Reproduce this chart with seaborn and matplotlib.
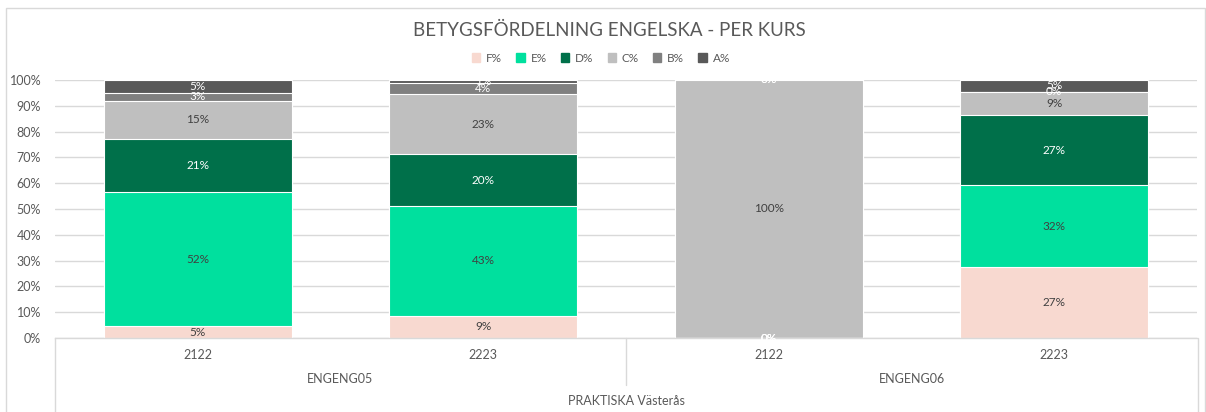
import numpy as np
import pandas as pd
import matplotlib
matplotlib.use("Agg")
import matplotlib.pyplot as plt
import seaborn as sns
from matplotlib.patches import Rectangle
from matplotlib.lines import Line2D

# ---- data ----
courses = ["ENGENG05", "ENGENG05", "ENGENG06", "ENGENG06"]
terms = ["2122", "2223", "2122", "2223"]
school = "PRAKTISKA Västerås"
grades = ["F%", "E%", "D%", "C%", "B%", "A%"]
F = [4.6, 8.6, 0.0, 27.4]
E = [51.8, 42.6, 0.0, 31.8]
D = [20.6, 20.0, 0.0, 27.2]
C = [15.0, 23.4, 100.0, 9.0]
B = [3.0, 4.2, 0.0, 0.0]
A = [5.0, 1.2, 0.0, 4.6]
title = "BETYGSFÖRDELNING ENGELSKA - PER KURS"

colors = ["#F8D9D0", "#00E09E", "#00704A", "#BFBFBF", "#808080", "#595959"]
label_colors = ["#404040", "#404040", "white", "#404040", "white", "white"]

sns.set_theme(style="white")
plt.rcParams["font.family"] = ["Lato", "DejaVu Sans"]

keys = [f"{c}\n{t}" for c, t in zip(courses, terms)]
df = pd.DataFrame({"key": keys, "F%": F, "E%": E, "D%": D, "C%": C, "B%": B, "A%": A})
vals = df[grades].to_numpy() / 100.0
cum = np.cumsum(vals, axis=1)

fig = plt.figure(figsize=(12.06, 4.12), dpi=100)
ax = fig.add_axes([55 / 1206, (412 - 338) / 412, (1197 - 55) / 1206, (338 - 80) / 412])

# draw stacked from the top down so each layer overlays the previous
for gi in range(len(grades) - 1, -1, -1):
    sns.barplot(x=df["key"], y=cum[:, gi], order=keys, color=colors[gi],
                width=0.66, saturation=1, ax=ax, edgecolor="white", linewidth=0.8,
                zorder=2)

# segment labels (all, including zeros, as the reference)
for i in range(len(keys)):
    bottom = 0.0
    for gi in range(len(grades)):
        v = vals[i, gi]
        col = label_colors[gi]
        if v == 0:
            col = "white"
        ax.text(i, bottom + v / 2, f"{round(v * 100):.0f}%", ha="center", va="center",
                fontsize=8.5, color=col, zorder=5)
        bottom += v

ax.set_xlim(-0.5, 3.5)
ax.set_ylim(0, 1)
ax.set_yticks(np.arange(0, 1.01, 0.1))
ax.set_yticklabels([f"{int(round(t * 100))}%" for t in np.arange(0, 1.01, 0.1)],
                   fontsize=9, color="#595959")
ax.tick_params(axis="y", length=0, pad=10)
ax.set_xticks([])
ax.set_xlabel("")
ax.set_ylabel("")
ax.grid(axis="y", color="#D9D9D9", linewidth=1, zorder=0)
ax.set_axisbelow(True)
for s in ["top", "right", "left"]:
    ax.spines[s].set_visible(False)
ax.spines["bottom"].set_color("#D9D9D9")
ax.spines["bottom"].set_linewidth(1)

# multi-level category axis
def fx(px):
    return px / 1206
def fy(py):
    return 1 - py / 412

line_c = "#D9D9D9"
fig.add_artist(Line2D([fx(55), fx(55)], [fy(338), fy(412)], color=line_c, lw=1))
fig.add_artist(Line2D([fx(1198), fx(1198)], [fy(338), fy(412)], color=line_c, lw=1))
fig.add_artist(Line2D([fx(626), fx(626)], [fy(338), fy(385)], color=line_c, lw=1))

for i, t in enumerate(terms):
    ax.text(i, -0.065, t, ha="center", va="center", fontsize=9, color="#595959",
            transform=ax.get_xaxis_transform())
group_names = []
for c in courses:
    if c not in group_names:
        group_names.append(c)
for gname in group_names:
    idx = [i for i, c in enumerate(courses) if c == gname]
    ax.text(np.mean(idx), -0.16, gname, ha="center", va="center", fontsize=9,
            color="#595959", transform=ax.get_xaxis_transform())
ax.text(1.5, -0.245, school, ha="center", va="center", fontsize=9, color="#595959",
        transform=ax.get_xaxis_transform())

# title
fig.text(fx(609), fy(30), title, ha="center", va="center", fontsize=13.5, color="#595959")

# legend
handles = [Rectangle((0, 0), 1, 1, color=c) for c in colors]
leg = fig.legend(handles, grades, loc="center", bbox_to_anchor=(fx(601), fy(58)),
                 ncol=6, frameon=False, fontsize=8.5, handlelength=0.7, handleheight=0.7,
                 columnspacing=1.2, handletextpad=0.5)
for t in leg.get_texts():
    t.set_color("#595959")

# chart border
fig.add_artist(Rectangle((fx(6), fy(430)), fx(1199), fy(8) - fy(430), fill=False,
                         edgecolor="#D9D9D9", lw=1, transform=fig.transFigure))

fig.savefig("out.png", dpi=100)
